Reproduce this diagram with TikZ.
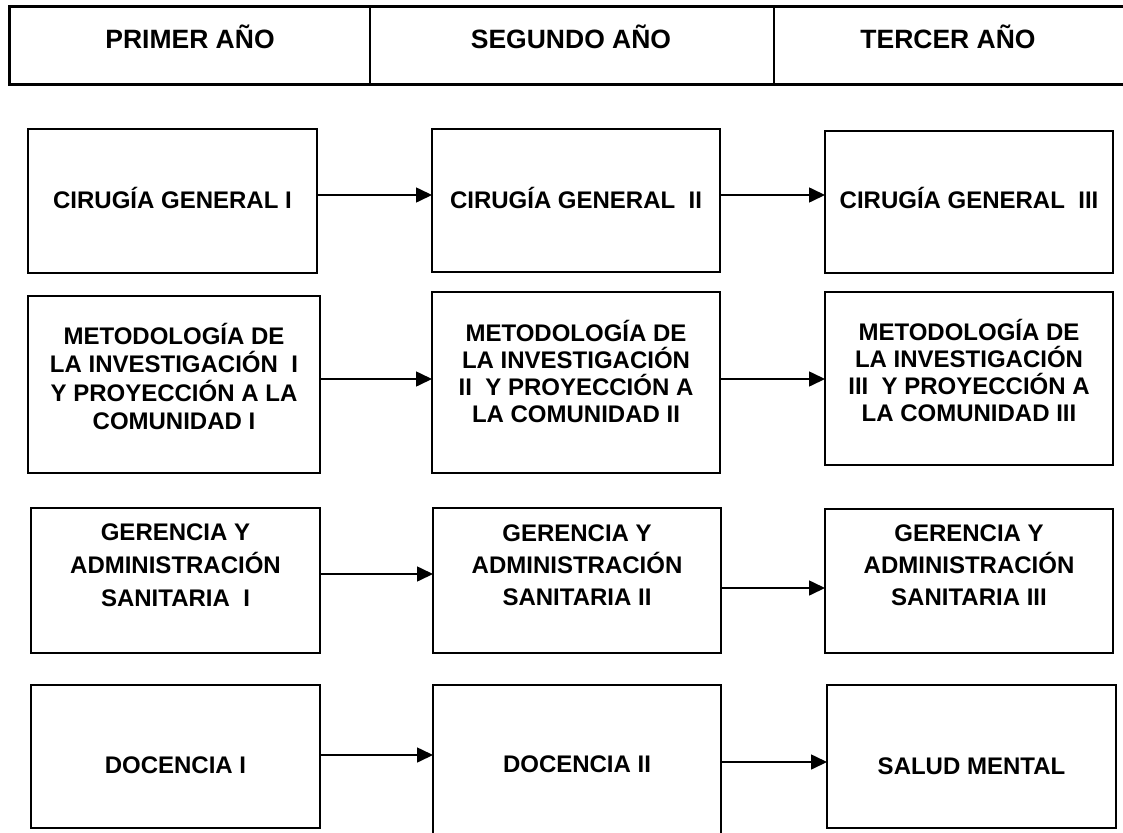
\documentclass[tikz,border=0pt]{standalone}
\usepackage{fontspec}
\setmainfont{Liberation Sans}
\usetikzlibrary{arrows.meta}
\begin{document}
\begin{tikzpicture}[x=1pt,y=-1pt,
  box/.style={draw, line width=2pt, inner sep=0pt, outer sep=0pt, rectangle},
  hcell/.style={draw, line width=2pt, inner sep=0pt, outer sep=0pt, rectangle},
  hlbl/.style={font=\fontsize{26.5}{30}\selectfont\bfseries, inner sep=0pt, anchor=base},
  lbl/.style={font=\fontsize{24}{28}\selectfont\bfseries, align=center, inner sep=0pt},
  arr/.style={line width=1.6pt, -{Triangle[length=16pt,width=15pt]}}]
\useasboundingbox[fill=white] (0,0) rectangle (1123,832);
% header
\node[hcell, minimum width=361pt, minimum height=78pt] (h1) at (189.5,46) {};
\node[hcell, minimum width=404pt, minimum height=78pt] (h2) at (572,46) {};
\node[hcell, minimum width=361pt, minimum height=78pt] (h3) at (954.5,46) {};
\draw[line width=3pt] (h3.north east) -- (h1.north west) -- (h1.south west) -- (h3.south east);
\node[hlbl] (ht1) at (190,49) {PRIMER AÑO};
\node[hlbl] (ht2) at (571,49) {SEGUNDO AÑO};
\node[hlbl] (ht3) at (948,49) {TERCER AÑO};
% row 1
\node[box, minimum width=289pt, minimum height=144pt] (b11) at (172.5,201) {};
\node[box, minimum width=288pt, minimum height=143pt] (b12) at (576,200.5) {};
\node[box, minimum width=288pt, minimum height=142pt] (b13) at (969,202) {};
\node[lbl, anchor=base] (l11) at (172.5,208) {CIRUGÍA GENERAL I};
\node[lbl, anchor=base] (l12) at (576,208) {CIRUGÍA GENERAL\ \ II};
\node[lbl, anchor=base] (l13) at (969,208) {CIRUGÍA GENERAL\ \ III};
% row 2
\node[box, minimum width=292pt, minimum height=177pt] (b21) at (174,384.5) {};
\node[box, minimum width=288pt, minimum height=181pt] (b22) at (576,382.5) {};
\node[box, minimum width=288pt, minimum height=173pt] (b23) at (969,378.5) {};
\node[lbl, font=\fontsize{24}{28.3}\selectfont\bfseries] (l21) at (174,376.6)
  {METODOLOGÍA DE\\LA INVESTIGACIÓN\ \ I\\Y PROYECCIÓN A LA\\COMUNIDAD I};
\node[lbl, font=\fontsize{24}{27}\selectfont\bfseries] (l22) at (576,371.6)
  {METODOLOGÍA DE\\LA INVESTIGACIÓN\\II\ \ Y PROYECCIÓN A\\LA COMUNIDAD II};
\node[lbl, font=\fontsize{24}{27}\selectfont\bfseries] (l23) at (969,370.4)
  {METODOLOGÍA DE\\LA INVESTIGACIÓN\\III\ \ Y PROYECCIÓN A\\LA COMUNIDAD III};
% row 3
\node[box, minimum width=289pt, minimum height=145pt] (b31) at (175.5,580.5) {};
\node[box, minimum width=288pt, minimum height=145pt] (b32) at (577,580.5) {};
\node[box, minimum width=288pt, minimum height=144pt] (b33) at (969,581) {};
\node[lbl, font=\fontsize{24}{33}\selectfont\bfseries] (l31) at (175.5,565)
  {GERENCIA Y\\ADMINISTRACIÓN\\SANITARIA\ \ I};
\node[lbl, font=\fontsize{24}{32}\selectfont\bfseries] (l32) at (577,565)
  {GERENCIA Y\\ADMINISTRACIÓN\\SANITARIA II};
\node[lbl, font=\fontsize{24}{32}\selectfont\bfseries] (l33) at (969,565)
  {GERENCIA Y\\ADMINISTRACIÓN\\SANITARIA III};
% row 4
\node[box, minimum width=289pt, minimum height=143pt] (b41) at (175.5,756.5) {};
\node[box, minimum width=288pt, minimum height=160pt] (b42) at (577,765) {};
\node[box, minimum width=289pt, minimum height=143pt] (b43) at (971.5,756.5) {};
\node[lbl, anchor=base] (l41) at (175.5,773) {DOCENCIA I};
\node[lbl, anchor=base] (l42) at (577,772) {DOCENCIA II};
\node[lbl, anchor=base] (l43) at (971.5,774) {SALUD MENTAL};
% arrows
\draw[arr] (b11.east |- 0,195) -- (b12.west |- 0,195);
\draw[arr] (b12.east |- 0,195) -- (b13.west |- 0,195);
\draw[arr] (b21.east |- 0,379) -- (b22.west |- 0,379);
\draw[arr] (b22.east |- 0,379) -- (b23.west |- 0,379);
\draw[arr] (b31.east |- 0,574) -- (b32.west |- 0,574);
\draw[arr] (b32.east |- 0,588) -- (b33.west |- 0,588);
\draw[arr] (b41.east |- 0,755) -- (b42.west |- 0,755);
\draw[arr] (b42.east |- 0,762) -- (b43.west |- 0,762);
\end{tikzpicture}
\end{document}
